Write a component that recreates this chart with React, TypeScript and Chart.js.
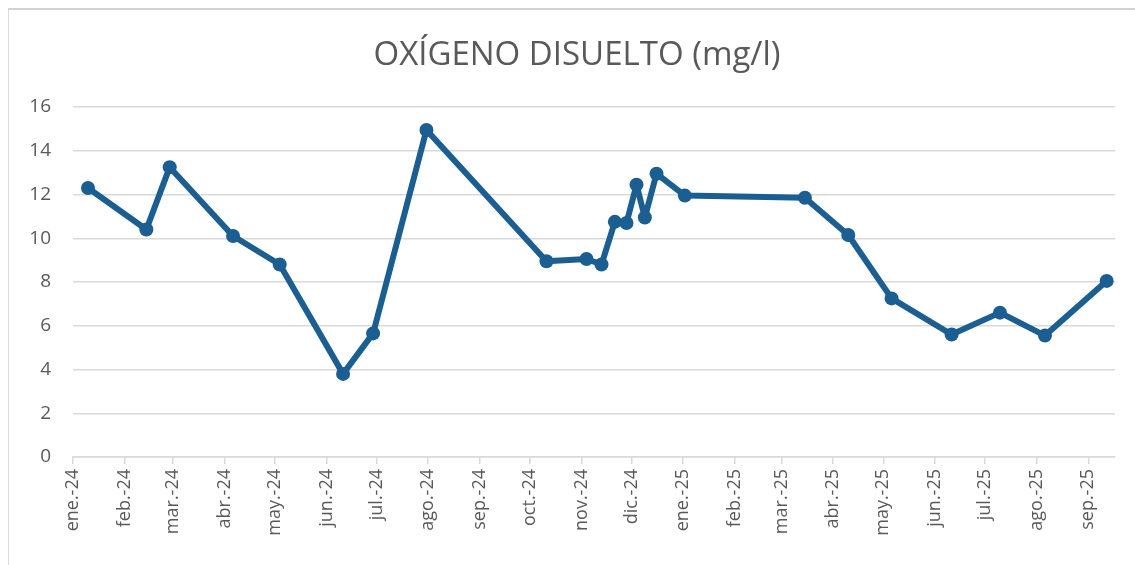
import React, { useEffect, useRef } from "react";
import { Chart, registerables } from "chart.js";

Chart.register(...registerables);

const TITLE = "OXÍGENO DISUELTO (mg/l)";

const sampleDates = [
  "2024-01-10", "2024-02-14", "2024-02-28", "2024-04-06", "2024-05-04",
  "2024-06-11", "2024-06-29", "2024-07-31", "2024-10-11", "2024-11-04",
  "2024-11-13", "2024-11-21", "2024-11-28", "2024-12-04", "2024-12-09",
  "2024-12-16", "2025-01-02", "2025-03-15", "2025-04-10", "2025-05-06",
  "2025-06-11", "2025-07-10", "2025-08-06", "2025-09-12",
];

const oxygenValues = [
  12.3, 10.4, 13.25, 10.1, 8.8,
  3.8, 5.65, 14.95, 8.95, 9.05,
  8.8, 10.75, 10.7, 12.45, 10.95,
  12.95, 11.95, 11.85, 10.15, 7.25,
  5.6, 6.6, 5.55, 8.05,
];

const tickMonths = [
  "2024-01-01", "2024-02-01", "2024-03-01", "2024-04-01", "2024-05-01",
  "2024-06-01", "2024-07-01", "2024-08-01", "2024-09-01", "2024-10-01",
  "2024-11-01", "2024-12-01", "2025-01-01", "2025-02-01", "2025-03-01",
  "2025-04-01", "2025-05-01", "2025-06-01", "2025-07-01", "2025-08-01",
  "2025-09-01",
];

const tickLabels = [
  "ene.-24", "feb.-24", "mar.-24", "abr.-24", "may.-24", "jun.-24",
  "jul.-24", "ago.-24", "sep.-24", "oct.-24", "nov.-24", "dic.-24",
  "ene.-25", "feb.-25", "mar.-25", "abr.-25", "may.-25", "jun.-25",
  "jul.-25", "ago.-25", "sep.-25",
];

const axisStart = "2024-01-01";
const axisEnd = "2025-09-17";

const yTicks = [0, 2, 4, 6, 8, 10, 12, 14, 16];

const DAY = 86400000;
const toDay = (s: string) => {
  const [y, m, d] = s.split("-").map(Number);
  const [y0, m0, d0] = axisStart.split("-").map(Number);
  return Math.round((Date.UTC(y, m - 1, d) - Date.UTC(y0, m0 - 1, d0)) / DAY);
};

const TEXT = "#595959";
const GRID = "#d9d9d9";
const LINE = "#1b5e91";

export default function App() {
  const ref = useRef<HTMLCanvasElement>(null);

  useEffect(() => {
    if (!ref.current) return;
    const points = sampleDates.map((d, i) => ({ x: toDay(d), y: oxygenValues[i] }));
    const tickValues = tickMonths.map(toDay);

    const titlePlugin = {
      id: "titleText",
      afterDraw(chart: any) {
        const ctx = chart.ctx;
        ctx.save();
        ctx.font = "33px 'Open Sans', sans-serif";
        ctx.fillStyle = TEXT;
        ctx.textAlign = "center";
        ctx.textBaseline = "middle";
        ctx.fillText(TITLE, 577, 56);
        ctx.restore();
      },
    };

    const chart = new Chart(ref.current, {
      type: "line",
      data: {
        datasets: [
          {
            label: TITLE,
            data: points,
            borderColor: LINE,
            backgroundColor: LINE,
            borderWidth: 6,
            borderJoinStyle: "round",
            borderCapStyle: "round",
            pointRadius: 7,
            pointBackgroundColor: LINE,
            pointBorderColor: LINE,
            pointBorderWidth: 0,
            tension: 0,
          },
        ],
      },
      options: {
        animation: false,
        responsive: false,
        layout: { padding: { top: 107, left: 0, right: 20, bottom: 0 } },
        plugins: {
          legend: { display: false },
          title: { display: false },
          tooltip: { enabled: false },
        },
        scales: {
          x: {
            type: "linear",
            min: toDay(axisStart),
            max: toDay(axisEnd),
            afterBuildTicks: (scale: any) => {
              scale.ticks = tickValues.map((v) => ({ value: v }));
            },
            afterFit: (scale: any) => {
              scale.height = 108;
            },
            grid: {
              drawOnChartArea: false,
              drawTicks: true,
              tickLength: 7,
              color: GRID,
              lineWidth: 1.5,
            },
            border: { display: true, color: GRID, width: 1.5 },
            ticks: {
              autoSkip: false,
              maxRotation: 90,
              minRotation: 90,
              padding: 5,
              color: TEXT,
              font: { family: "'Open Sans', sans-serif", size: 18 },
              callback: (_v: any, i: number) => tickLabels[i],
            },
          },
          y: {
            min: 0,
            max: 16,
            afterBuildTicks: (scale: any) => {
              scale.ticks = yTicks.map((v) => ({ value: v }));
            },
            afterFit: (scale: any) => {
              scale.width = 73;
            },
            grid: { drawTicks: false, color: GRID, lineWidth: 1.5 },
            border: { display: false },
            ticks: {
              padding: 22,
              color: TEXT,
              font: { family: "'Open Sans', sans-serif", size: 19 },
            },
          },
        },
      },
      plugins: [titlePlugin],
    } as any);

    return () => chart.destroy();
  }, []);

  return (
    <div style={{ position: "fixed", left: 0, top: 0, width: 1135, height: 565, background: "#fff", overflow: "hidden" }}>
      <div
        style={{
          position: "absolute",
          left: 8,
          top: 8,
          width: 1140,
          height: 570,
          borderTop: "2px solid #d2d2d2",
          borderLeft: "1.5px solid #d9d9d9",
        }}
      />
      <canvas ref={ref} width={1135} height={565} style={{ position: "absolute", left: 0, top: 0 }} />
    </div>
  );
}
